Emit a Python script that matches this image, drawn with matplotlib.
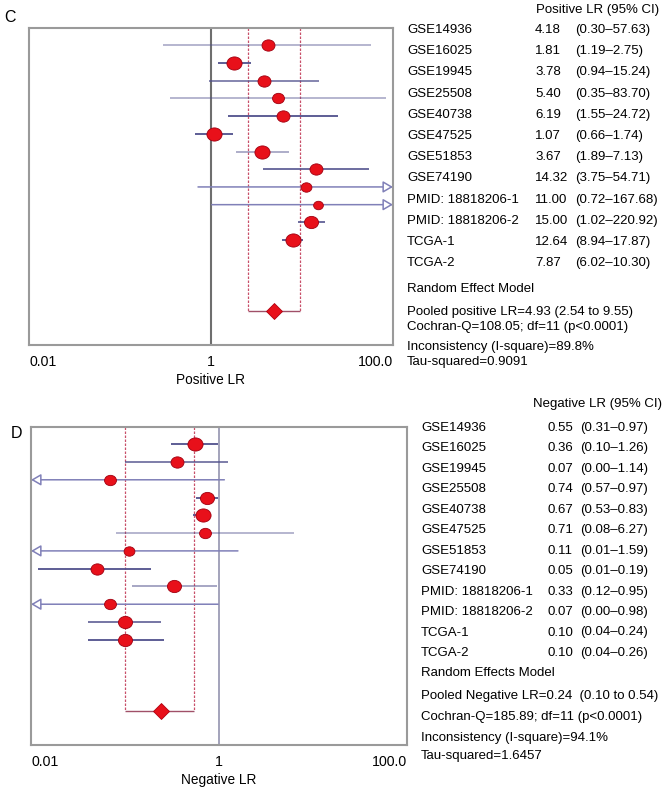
import numpy as np
import matplotlib
matplotlib.use('Agg')
import matplotlib.pyplot as plt
from matplotlib.path import Path
from matplotlib.transforms import Affine2D

plt.rcParams['font.family'] = ['Liberation Sans', 'DejaVu Sans']

W, H = 669, 787

studies = ['GSE14936', 'GSE16025', 'GSE19945', 'GSE25508', 'GSE40738', 'GSE47525',
           'GSE51853', 'GSE74190', 'PMID: 18818206-1', 'PMID: 18818206-2', 'TCGA-1', 'TCGA-2']

# positive LR (panel C)
pos_lr = [4.18, 1.81, 3.78, 5.40, 6.19, 1.07, 3.67, 14.32, 11.00, 15.00, 12.64, 7.87]
pos_lo = [0.30, 1.19, 0.94, 0.35, 1.55, 0.66, 1.89, 3.75, 0.72, 1.02, 8.94, 6.02]
pos_hi = [57.63, 2.75, 15.24, 83.70, 24.72, 1.74, 7.13, 54.71, 167.68, 220.92, 17.87, 10.30]
pos_weight = [12, 14, 12, 11, 12, 14, 14, 12, 10, 9, 13, 14]
pos_pooled = (4.93, 2.54, 9.55)

# negative LR (panel D)
neg_lr = [0.55, 0.36, 0.07, 0.74, 0.67, 0.71, 0.11, 0.05, 0.33, 0.07, 0.10, 0.10]
neg_lo = [0.31, 0.10, 0.00, 0.57, 0.53, 0.08, 0.006, 0.012, 0.12, 0.00, 0.04, 0.04]
neg_hi = [0.97, 1.26, 1.14, 0.97, 0.83, 6.27, 1.59, 0.19, 0.95, 0.98, 0.24, 0.26]
neg_weight = [14, 12, 11, 13, 14, 11, 10, 12, 13, 11, 13, 13]
neg_pooled = (0.24, 0.10, 0.54)

# line shade per row (style only)
pos_alpha = [0.45, 1.0, 0.75, 0.45, 1.0, 1.0, 0.5, 0.9, 1.0, 0.8, 0.9, 1.0]
neg_alpha = [1.0, 0.8, 0.6, 1.0, 1.0, 0.45, 0.95, 1.0, 0.55, 0.8, 0.85, 1.0]

XMIN, XMAX = 0.01, 100
LINE_C = '#50508c'
RED = '#e8101a'
DASH_C = '#c8506a'

oval = Path.unit_circle().transformed(Affine2D().scale(1.15, 1.0))


def px(x, y):
    return x / W, 1 - y / H


def forest(ax, lr, lo, hi, weight, alphas, pooled, xlabel, one_color, one_lw):
    n = len(lr)
    rows = np.arange(1, n + 1)
    ax.set_xscale('log')
    ax.set_xlim(XMIN, XMAX)
    ax.set_ylim(17.92, 0.03)
    ax.axvline(1, color=one_color, lw=one_lw, zorder=1)

    est, plo, phi = pooled
    ax.vlines([plo, phi], 0.03, 16, colors=DASH_C, lw=0.9, linestyles=(0, (2, 1.2)), zorder=1)
    ax.hlines(16, plo, phi, colors='#a05068', lw=1.0, zorder=1)
    ax.plot(est, 16, marker='D', ms=7.8, mfc=RED, mec='#b00010', mew=0.6, zorder=4)

    for y, v, l, h, w, a in zip(rows, lr, lo, hi, weight, alphas):
        c = matplotlib.colors.to_rgba(LINE_C, a)
        if h > XMAX:
            ax.annotate('', xy=(XMAX, y), xytext=(l, y), xycoords='data',
                        arrowprops=dict(arrowstyle='-|>,head_length=0.6,head_width=0.35',
                                        fc='white', ec='#8080b8', lw=1.1, shrinkA=0, shrinkB=0,
                                        mutation_scale=10), zorder=2)
        elif l <= XMIN:
            ax.annotate('', xy=(XMIN, y), xytext=(h, y), xycoords='data',
                        arrowprops=dict(arrowstyle='-|>,head_length=0.6,head_width=0.35',
                                        fc='white', ec='#8080b8', lw=1.1, shrinkA=0, shrinkB=0,
                                        mutation_scale=10), zorder=2)
        else:
            ax.plot([l, h], [y, y], color=c, lw=1.3, zorder=2, solid_capstyle='butt')
        ax.plot(v, y, marker=oval, ms=w * 0.78, mfc=RED, mec='#a00010', mew=0.6, zorder=3)

    ax.set_yticks([])
    ax.set_xticks([0.01, 1, 100])
    ax.set_xticks([], minor=True)
    ax.set_xticklabels(['0.01', '1', '100.0'], fontsize=10.2)
    labs = ax.get_xticklabels()
    labs[0].set_ha('left')
    labs[-1].set_ha('right')
    ax.tick_params(axis='x', length=0, pad=7)
    ax.set_xlabel(xlabel, fontsize=9.8, labelpad=3)
    for s in ax.spines.values():
        s.set_color('#9a9a9a')
        s.set_linewidth(1.5)


fig = plt.figure(figsize=(W / 100, H / 100), dpi=100)

ax1 = fig.add_axes([29 / W, 1 - 345 / H, 364 / W, 317 / H])
forest(ax1, pos_lr, pos_lo, pos_hi, pos_weight, pos_alpha, pos_pooled, 'Positive LR', '#6e6e6e', 1.5)

ax2 = fig.add_axes([31 / W, 1 - 745 / H, 376 / W, 318 / H])
forest(ax2, neg_lr, neg_lo, neg_hi, neg_weight, neg_alpha, neg_pooled, 'Negative LR', '#8a8aa8', 1.1)

fig.text(*px(4, 17), 'C', fontsize=11.5, va='center', ha='left')
fig.text(*px(11, 433), 'D', fontsize=11.5, va='center', ha='left')

FS = 9.5


def table(x_name, x_val, x_ci, y0, step, lr, lo, hi):
    for i, (s, v, l, h) in enumerate(zip(studies, lr, lo, hi)):
        y = y0 + i * step
        fig.text(*px(x_name, y), s, fontsize=FS, va='center')
        fig.text(*px(x_val, y), f'{v:.2f}', fontsize=FS, va='center')
        fig.text(*px(x_ci, y), f'({l:.2f}\u2013{h:.2f})', fontsize=FS, va='center')


# panel C text
fig.text(*px(536, 10), 'Positive LR (95% CI)', fontsize=FS, va='center')
table(407, 535, 575, 30, 21.2, pos_lr, pos_lo, pos_hi)
fig.text(*px(407, 289), 'Random Effect Model', fontsize=FS, va='center')
fig.text(*px(407, 312), f'Pooled positive LR={pos_pooled[0]:.2f} ({pos_pooled[1]:.2f} to {pos_pooled[2]:.2f})',
         fontsize=FS, va='center')
fig.text(*px(407, 327), 'Cochran-Q=108.05; df=11 (p<0.0001)', fontsize=FS, va='center')
fig.text(*px(407, 347), 'Inconsistency (I-square)=89.8%', fontsize=FS, va='center')
fig.text(*px(407, 362), 'Tau-squared=0.9091', fontsize=FS, va='center')

# panel D text
fig.text(*px(533, 404), 'Negative LR (95% CI)', fontsize=FS, va='center')
table(421, 547, 580, 428, 20.45, neg_lr, neg_lo, neg_hi)
fig.text(*px(421, 673), 'Random Effects Model', fontsize=FS, va='center')
fig.text(*px(421, 696), f'Pooled Negative LR={neg_pooled[0]:.2f}  ({neg_pooled[1]:.2f} to {neg_pooled[2]:.2f})',
         fontsize=FS, va='center')
fig.text(*px(421, 717), 'Cochran-Q=185.89; df=11 (p<0.0001)', fontsize=FS, va='center')
fig.text(*px(421, 738), 'Inconsistency (I-square)=94.1%', fontsize=FS, va='center')
fig.text(*px(421, 756), 'Tau-squared=1.6457', fontsize=FS, va='center')

fig.savefig('out.png', dpi=100)
